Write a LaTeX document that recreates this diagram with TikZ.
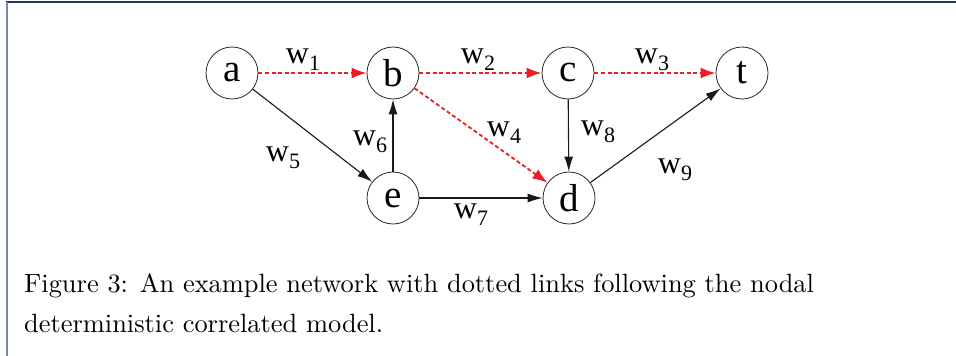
\documentclass[tikz,border=0pt]{standalone}
\usepackage{fontspec}
\newfontfamily\tms{Liberation Serif}
\newfontfamily\capfont{lmroman10-regular}[Extension=.otf]
\usetikzlibrary{arrows.meta}
\definecolor{framenavy}{RGB}{30,55,100}
\definecolor{frameside}{RGB}{120,135,175}
\definecolor{linkred}{RGB}{235,30,35}
\newcommand\wsub[1]{{\tms\fontsize{32}{34}\selectfont w\raisebox{-0.22em}{\fontsize{22}{22}\selectfont #1}}}
\tikzset{
  vtx/.style={circle, draw=black!85, line width=0.8pt, minimum size=52pt, inner sep=0pt,
              font=\tms\fontsize{39}{39}\selectfont},
  solidlink/.style={draw=black!90, line width=1.1pt, -{Latex[length=15pt,width=9pt]}},
  dotlink/.style={draw=linkred, line width=1.8pt, dash pattern=on 4pt off 2.6pt,
                  -{Latex[length=15pt,width=11pt]}},
  wlab/.style={inner sep=0pt},
  captionline/.style={anchor=base west, inner sep=0pt, font=\capfont\fontsize{26.4}{30}\selectfont}
}
\begin{document}
\begin{tikzpicture}[x=1pt, y=-1pt]
  \useasboundingbox (0,0) rectangle (956,356);
  % frame edges
  \draw[framenavy, line width=1.4pt] (6,2) -- (956,2);
  \draw[frameside, line width=2pt] (7,2) -- (7,356);

  % vertices
  \node[vtx] (a) at (232,73) {a};
  \node[vtx] (b) at (393,73) {b};
  \node[vtx] (c) at (568,73) {c};
  \node[vtx] (t) at (742,73) {t};
  \node[vtx] (e) at (393,198) {e};
  \node[vtx] (d) at (569,198) {d};

  % links
  \draw[dotlink] (a) -- (b);
  \draw[dotlink] (b) -- (c);
  \draw[dotlink] (c) -- (t);
  \draw[dotlink] (b) -- (d);
  \draw[solidlink] (a) -- (e);
  \draw[solidlink] (e) -- (b);
  \draw[solidlink] (e) -- (d);
  \draw[solidlink] (c) -- (d);
  \draw[solidlink] (d) -- (t);

  % weights
  \node[wlab] (w1) at (303,60) {\wsub{1}};
  \node[wlab] (w2) at (478,60) {\wsub{2}};
  \node[wlab] (w3) at (652,60) {\wsub{3}};
  \node[wlab] (w4) at (504,133) {\wsub{4}};
  \node[wlab] (w5) at (283,158) {\wsub{5}};
  \node[wlab] (w6) at (370,142) {\wsub{6}};
  \node[wlab] (w7) at (471,215) {\wsub{7}};
  \node[wlab] (w8) at (598,132) {\wsub{8}};
  \node[wlab] (w9) at (675,170) {\wsub{9}};

  % caption
  \node[captionline] (cap1) at (24,292) {Figure 3: An example network with dotted links following the nodal};
  \node[captionline] (cap2) at (24,332) {deterministic correlated model.};
\end{tikzpicture}
\end{document}
